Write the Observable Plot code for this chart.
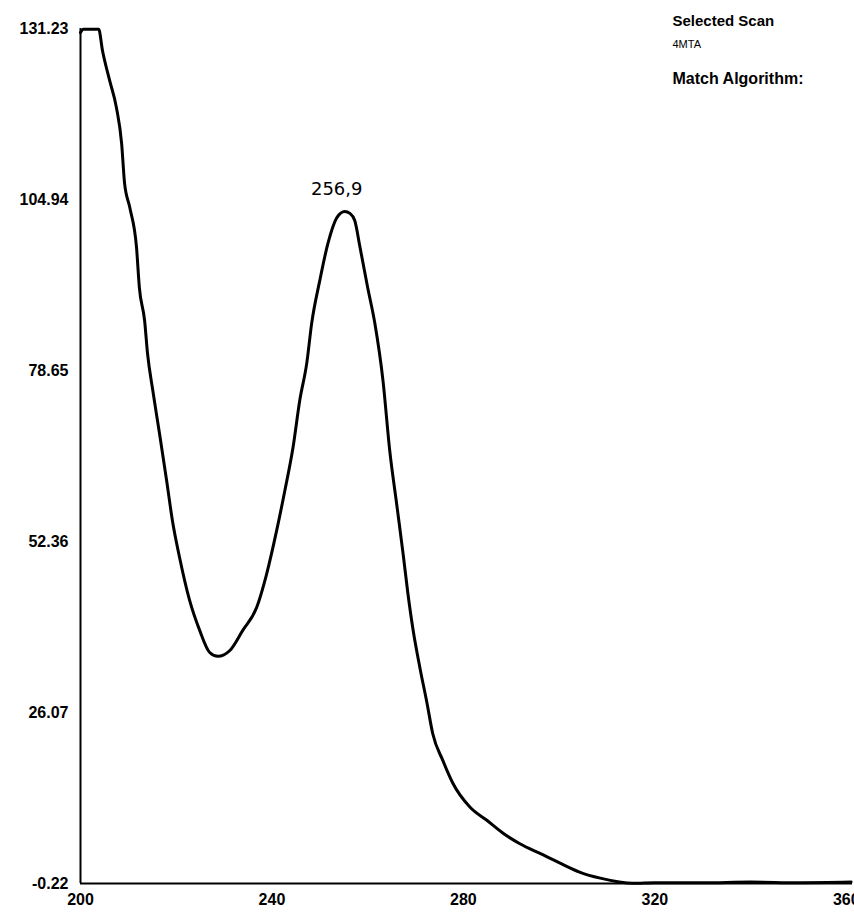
<!DOCTYPE html>
<html>
<head>
<meta charset="utf-8">
<script src="https://cdn.jsdelivr.net/npm/d3@7"></script>
<script src="https://cdn.jsdelivr.net/npm/@observablehq/plot@0.6"></script>
<style>
  html, body { margin: 0; padding: 0; background: #fff; }
  #chart svg { display: block; }
</style>
</head>
<body>
<div id="chart"></div>
<script>
// Wavelength (nm) and absorbance
const wavelength = [200, 200.6, 203.8, 204.6, 206.1, 207.5, 208.6, 209.2, 210.3, 211.7, 212.3, 213.4, 214.0, 215.1, 216.5, 218.0, 219.2, 220.7, 222.8, 224.9, 227.0, 228.7, 231.2, 233.9, 236.8, 238.9, 241.0, 242.7, 244.4, 245.8, 247.3, 248.3, 250.0, 251.7, 253.6, 255.2, 256.3, 257.3, 258.4, 260.0, 261.5, 263.2, 264.6, 266.1, 267.4, 268.4, 269.5, 270.9, 272.4, 273.6, 275.7, 277.8, 281.4, 284.9, 288.3, 291.8, 296.0, 300.2, 304.4, 308.6, 315.5, 320, 330, 340, 350, 361];
const absorbance = [130.6, 131.1, 131.1, 127.8, 123.2, 119.1, 113.5, 107.5, 103.7, 97.6, 91.4, 86.3, 81.3, 75.6, 69.0, 61.7, 55.6, 49.9, 43.3, 38.7, 35.3, 34.7, 35.6, 38.7, 42.2, 47.4, 54.1, 60.2, 66.8, 74.0, 79.9, 85.9, 92.5, 98.2, 102.2, 103.1, 102.8, 101.7, 97.6, 91.4, 85.9, 77.1, 66.4, 57.9, 50.5, 44.4, 38.7, 33.0, 27.5, 22.8, 18.7, 15.2, 11.5, 9.5, 7.5, 5.9, 4.4, 2.9, 1.5, 0.6, -0.2, -0.1, -0.1, 0.0, -0.1, 0.0];

const yTicks = [131.23, 104.94, 78.65, 52.36, 26.07, -0.22];
const xTicks = [200, 240, 280, 320, 360];

const peakLabel = ["256,9"];
const peakWavelength = [255.2];
const peakValue = [103.1];

const legendLines = ["Selected Scan", "4MTA", "Match Algorithm:"];

const data = wavelength.map((w, i) => ({w, a: absorbance[i]}));
const peaks = peakLabel.map((t, i) => ({t, w: peakWavelength[i], a: peakValue[i]}));

const font = "'Liberation Sans', Arial, sans-serif";

const chart = Plot.plot({
  width: 854,
  height: 918,
  marginLeft: 80,
  marginRight: 2,
  marginTop: 28,
  marginBottom: 35,
  style: {fontFamily: font, fontSize: "15px", fontWeight: "bold", color: "#000", background: "#fff"},
  x: {domain: [200, 361.3]},
  y: {domain: [-0.22, 131.23]},
  marks: [
    Plot.axisY({ticks: yTicks, tickSize: 0, tickPadding: 12, tickFormat: d => d.toFixed(2), label: null, fontSize: 16, fontWeight: "bold"}),
    Plot.axisX({ticks: xTicks, tickSize: 0, tickPadding: 10, tickFormat: d => String(d), label: null, fontSize: 16, fontWeight: "bold"}),
    Plot.ruleX([200], {stroke: "#000", strokeWidth: 2}),
    Plot.ruleY([-0.22], {stroke: "#000", strokeWidth: 2}),
    Plot.line(data, {x: "w", y: "a", stroke: "#000", strokeWidth: 3, strokeLinejoin: "round", curve: "monotone-x"}),
    Plot.text(peaks, {x: "w", y: "a", text: "t", dy: -22, dx: -8, fontSize: 18, fontWeight: "normal", fontFamily: "'DejaVu Sans', sans-serif", fill: "#000"}),
    Plot.text([legendLines[0]], {frameAnchor: "top-left", text: d => d, dx: 592, dy: -13, textAnchor: "start", fontSize: 15, fontWeight: "bold", fill: "#000"}),
    Plot.text([legendLines[1]], {frameAnchor: "top-left", text: d => d, dx: 592, dy: 12, textAnchor: "start", fontSize: 11, fontWeight: "normal", fill: "#000"}),
    Plot.text([legendLines[2]], {frameAnchor: "top-left", text: d => d, dx: 592, dy: 44, textAnchor: "start", fontSize: 16, fontWeight: "bold", fill: "#000"})
  ]
});
document.getElementById("chart").appendChild(chart);
</script>
</body>
</html>
